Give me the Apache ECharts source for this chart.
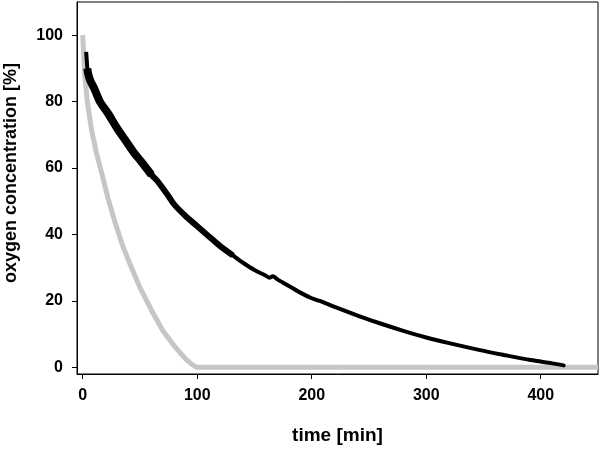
<!DOCTYPE html>
<html>
<head>
<meta charset="utf-8">
<script src="https://cdn.jsdelivr.net/npm/echarts@6/dist/echarts.min.js"></script>
<style>
  html, body { margin: 0; padding: 0; background: #fff; }
  #chart { width: 600px; height: 450px; }
</style>
</head>
<body>
<div id="chart"></div>
<script>
// measured oxygen trace (black), [time min, %]
var measuredTime = [3, 4, 5, 7, 10, 15, 22, 30, 37, 45, 51, 60, 66, 75, 80, 90, 100, 110, 120, 130, 140, 150, 160, 163, 166, 170, 175, 190, 200, 207, 220, 240, 260, 280, 300, 320, 347, 370, 391, 410, 420]
var measuredO2 = [95, 90, 88, 86, 84, 80, 76.5, 72, 68.5, 64.5, 62, 58, 55.8, 51.5, 49, 45.5, 42.5, 39.5, 36.5, 34, 31.5, 29.3, 27.6, 27.0, 27.4, 26.5, 25.5, 22.5, 20.8, 20, 18.2, 15.6, 13.2, 11, 9, 7.3, 5.2, 3.6, 2.2, 1.2, 0.6]
// model trace (grey)
var modelTime = [0, 1.5, 4, 7.6, 12, 16.4, 22, 28, 35, 42.6, 50, 60, 70, 80.5, 90, 95, 98, 100, 450]
var modelO2 = [100, 89, 80, 71.7, 64.5, 58.8, 51, 43.9, 36.5, 30, 24, 17.2, 11, 6.2, 2.5, 1.0, 0.3, 0, 0]

var xTicks = [0, 100, 200, 300, 400]
var yTicks = [0, 20, 40, 60, 80, 100]

function pairs (xs, ys, from, to) {
  var out = []
  for (var i = 0; i < xs.length; i++) {
    if (xs[i] >= from && xs[i] <= to) out.push([xs[i], ys[i]])
  }
  return out
}

var labelFont = { fontFamily: 'Liberation Sans', fontWeight: 'bold', fontSize: 16, color: '#000' }

var chart = echarts.init(document.getElementById('chart'))
chart.setOption({
  animation: false,
  backgroundColor: '#fff',
  grid: { left: 77, right: 2, top: 2, bottom: 72, show: true, borderColor: '#000', borderWidth: 1 },
  xAxis: {
    type: 'value',
    min: -5,
    max: 450,
    name: 'time [min]',
    nameLocation: 'middle',
    nameGap: 52,
    nameTextStyle: { fontFamily: 'Liberation Sans', fontWeight: 'bold', fontSize: 19, color: '#000' },
    axisLine: { show: true, onZero: false, lineStyle: { color: '#000', width: 1 } },
    axisTick: { show: true, length: 5, customValues: xTicks, lineStyle: { color: '#000' } },
    axisLabel: Object.assign({ margin: 14, customValues: xTicks }, labelFont),
    splitLine: { show: false }
  },
  yAxis: {
    type: 'value',
    min: -2,
    max: 110,
    axisLine: { show: true, onZero: false, lineStyle: { color: '#000', width: 1 } },
    axisTick: { show: true, length: 5, customValues: yTicks, lineStyle: { color: '#000' } },
    axisLabel: Object.assign({ margin: 14, customValues: yTicks }, labelFont),
    splitLine: { show: false }
  },
  graphic: [{
    type: 'text',
    left: 2,
    top: 63,
    rotation: Math.PI / 2,
    style: {
      text: 'oxygen concentration [%]',
      font: 'bold 18px "Liberation Sans"',
      fill: '#000'
    }
  }],
  series: [
    {
      type: 'line',
      data: pairs(modelTime, modelO2, 0, 450),
      showSymbol: false,
      lineStyle: { color: '#c6c6c6', width: 5, join: 'round' },
      z: 2
    },
    { // noisy early part
      type: 'line',
      data: pairs(measuredTime, measuredO2, 4, 60),
      showSymbol: false,
      smooth: 0.3,
      lineStyle: { color: '#000', width: 8, join: 'round' },
      z: 3
    },
    {
      type: 'line',
      data: pairs(measuredTime, measuredO2, 3, 15),
      showSymbol: false,
      lineStyle: { color: '#000', width: 4 },
      z: 3
    },
    {
      type: 'line',
      data: pairs(measuredTime, measuredO2, 51, 130),
      showSymbol: false,
      smooth: 0.3,
      lineStyle: { color: '#000', width: 6, join: 'round', cap: 'round' },
      z: 3
    },
    {
      type: 'line',
      data: pairs(measuredTime, measuredO2, 120, 420),
      showSymbol: false,
      smooth: 0.3,
      lineStyle: { color: '#000', width: 4, join: 'round', cap: 'round' },
      z: 3
    }
  ]
})
</script>
</body>
</html>
